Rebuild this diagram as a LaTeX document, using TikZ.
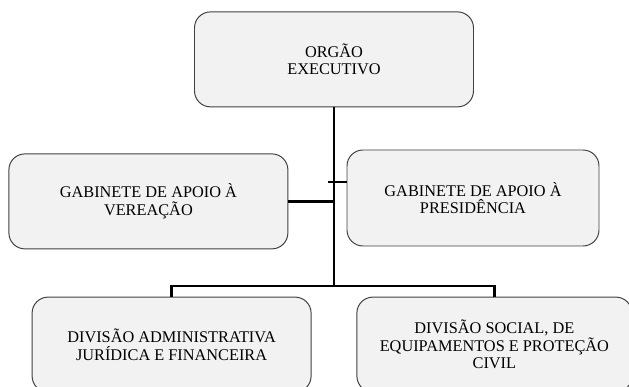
\documentclass[tikz,border=0pt]{standalone}
\usepackage{fontspec}
\setmainfont{Liberation Serif}
\usepackage{tikz}

\begin{document}
\begin{tikzpicture}[auto,
        unit node/.style={rectangle,rounded corners=0.4cm,draw=black!75,line width=0.7pt,
          fill=black!5,align=center,inner sep=2pt,
          font=\fontsize{11.6}{12.4}\selectfont},
        link edge/.style={draw=black,line width=2.1pt}
      ]
      \useasboundingbox (0,0) rectangle (15.725,9.675);

      % boxes
      \node[unit node,minimum width=6.975cm,minimum height=2.375cm] (exec) at (8.35,8.19)
        {ORGÃO\\EXECUTIVO};
      \node[unit node,minimum width=6.975cm,minimum height=2.375cm] (gav) at (3.71,4.64)
        {GABINETE DE APOIO À\\VEREAÇÃO};
      \node[unit node,minimum width=6.3cm,minimum height=2.4cm] (gap) at (11.825,4.725)
        {GABINETE DE APOIO À\\PRESIDÊNCIA};
      \node[unit node,minimum width=6.975cm,minimum height=2.375cm] (divaj) at (4.29,1.06)
        {DIVISÃO ADMINISTRATIVA\\JURÍDICA E FINANCEIRA};
      \node[unit node,minimum width=6.875cm,minimum height=2.375cm] (divs) at (12.36,1.06)
        {DIVISÃO SOCIAL, DE\\EQUIPAMENTOS E PROTEÇÃO\\CIVIL};

      \coordinate (bus) at (8.35,2.525);
      \coordinate (tick) at (8.2,5.125);

      % connectors
      \draw[link edge] (exec.south) -- (bus);
      \draw[link edge] (gav.east) -- (gav.east -| bus);
      \draw[link edge] (tick) -- (tick -| gap.west);
      \draw[link edge] (divaj.north) |- (bus) -| (divs.north);
    \end{tikzpicture}
\end{document}
